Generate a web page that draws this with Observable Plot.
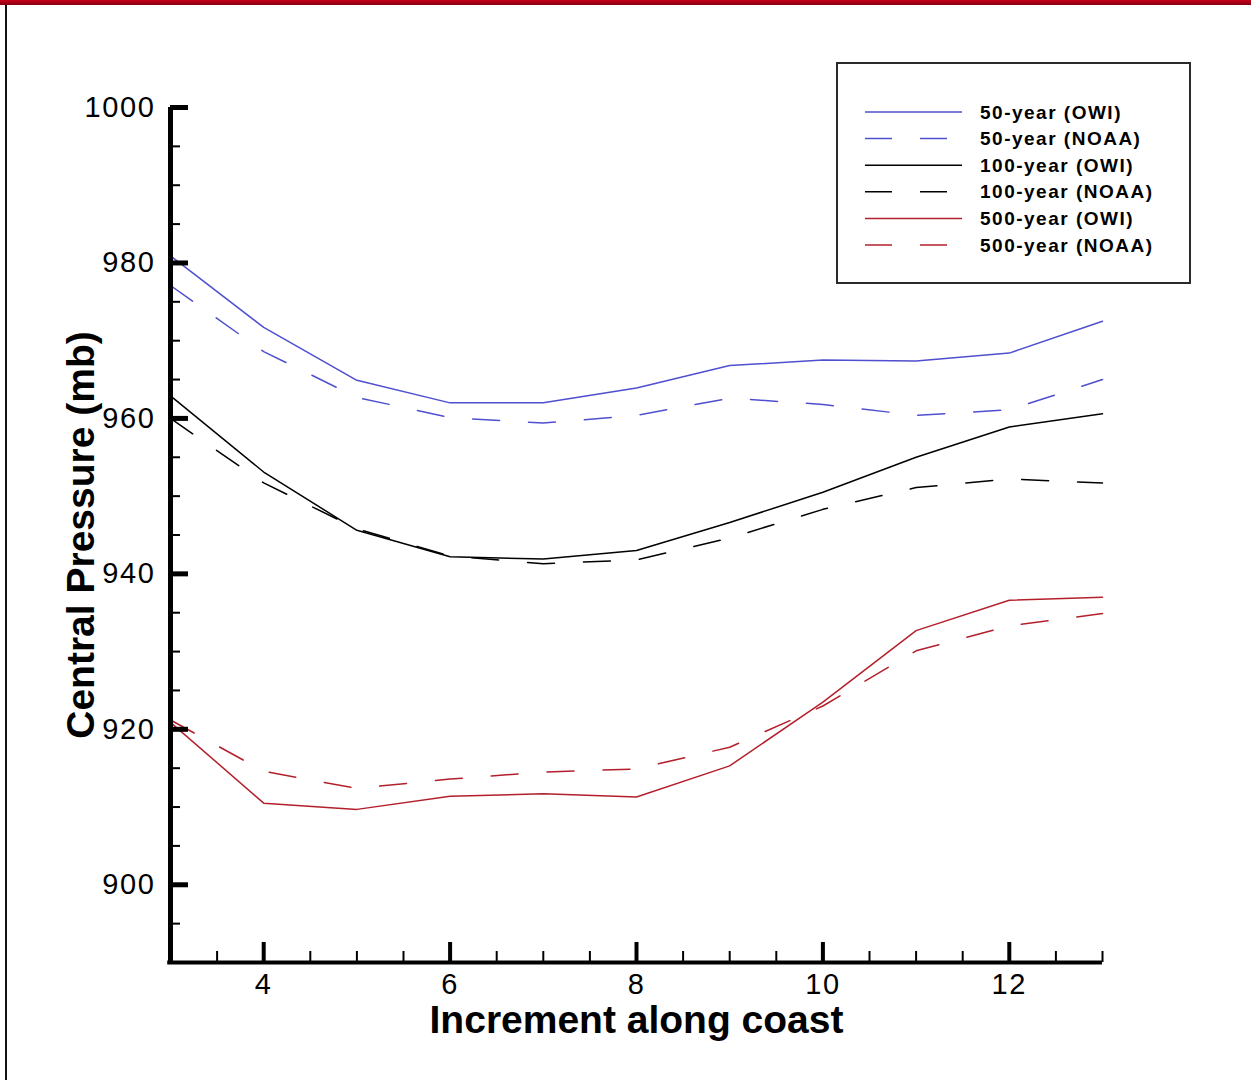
<!DOCTYPE html>
<html>
<head>
<meta charset="utf-8">
<script src="https://cdn.jsdelivr.net/npm/d3@7"></script>
<script src="https://cdn.jsdelivr.net/npm/@observablehq/plot@0.6"></script>
<style>
  body { margin: 0; background: #fff; font-family: "Liberation Sans", Arial, Helvetica, sans-serif; }
  #wrap { position: relative; width: 1251px; height: 1080px; overflow: hidden; background: #fff; }
  #topbar { position: absolute; left: 0; top: 0; width: 1251px; height: 5px; background: linear-gradient(#c4001a, #860010); }
  #leftedge { position: absolute; left: 5px; top: 5px; width: 2px; height: 1075px; background: #111; }
  #legend { position: absolute; left: 836px; top: 62px; width: 351px; height: 218px; border: 2px solid #2a2a2a; background: #fff; }
  #legend text { font-family: "Liberation Sans", Arial, sans-serif; font-weight: bold; font-size: 19px; letter-spacing: 1.5px; fill: #000; }
  .tecplot g[aria-label="y-axis tick label"] text,
  .tecplot g[aria-label="x-axis tick label"] text { letter-spacing: 1.6px; }
</style>
</head>
<body>
<div id="wrap">
  <div id="chart"></div>
  <div id="topbar"></div>
  <div id="leftedge"></div>
  <div id="legend"></div>
</div>
<script>
// Increment index along the coast
const increments = [3, 4, 5, 6, 7, 8, 9, 10, 11, 12, 13];

// Central pressure (mb) by return period and source
const owi50   = [980.9, 971.7, 964.9, 962.0, 962.0, 963.9, 966.8, 967.5, 967.4, 968.4, 972.5];
const noaa50  = [977.1, 968.6, 962.7, 960.1, 959.4, 960.4, 962.6, 961.8, 960.4, 961.1, 965.0];
const owi100  = [962.9, 953.1, 945.6, 942.2, 941.9, 943.0, 946.6, 950.5, 955.0, 958.9, 960.6];
const noaa100 = [960.0, 951.7, 945.8, 942.3, 941.3, 941.8, 944.6, 948.3, 951.1, 952.2, 951.7];
const owi500  = [920.9, 910.5, 909.7, 911.4, 911.7, 911.3, 915.3, 923.5, 932.7, 936.6, 937.0];
const noaa500 = [921.2, 914.6, 912.4, 913.6, 914.5, 914.9, 917.7, 923.0, 930.1, 933.3, 934.9];

const seriesNames = ["50-year (OWI)", "50-year (NOAA)", "100-year (OWI)", "100-year (NOAA)", "500-year (OWI)", "500-year (NOAA)"];
const seriesValues = [owi50, noaa50, owi100, noaa100, owi500, noaa500];
const seriesColors = ["#4f4fd0", "#4f4fd0", "#000000", "#000000", "#b3202c", "#b3202c"];
const seriesDashed = [false, true, false, true, false, true];

// Axis ticks
const xTickLabels = [4, 6, 8, 10, 12];
const xMinorTicks = [3, 3.5, 4.5, 5, 5.5, 6.5, 7, 7.5, 8.5, 9, 9.5, 10.5, 11, 11.5, 12.5, 13];
const yTickLabels = [900, 920, 940, 960, 980, 1000];
const yMinorTicks = [895, 905, 910, 915, 925, 930, 935, 945, 950, 955, 965, 970, 975, 985, 990, 995];

const rows = seriesNames.flatMap((name, i) =>
  increments.map((x, j) => ({series: name, x, p: seriesValues[i][j], dashed: seriesDashed[i]}))
);

const W = 1251, H = 1080;
const mL = 170, mR = 149, mT = 107, mB = 118;
const frameW = W - mL - mR, frameH = H - mT - mB;
const DASH = "27,29";

const chart = Plot.plot({
  width: W,
  height: H,
  marginLeft: mL,
  marginRight: mR,
  marginTop: mT,
  marginBottom: mB,
  className: "tecplot",
  style: {background: "transparent", fontFamily: "'Liberation Sans', Arial, sans-serif", color: "#000"},
  x: {domain: [3, 13]},
  y: {domain: [890, 1000]},
  color: {domain: seriesNames, range: seriesColors},
  marks: [
    Plot.line(rows.filter(d => !d.dashed), {x: "x", y: "p", z: "series", stroke: "series", strokeWidth: 1.5}),
    Plot.line(rows.filter(d => d.dashed), {x: "x", y: "p", z: "series", stroke: "series", strokeWidth: 1.5, strokeDasharray: DASH}),
    // inward ticks
    Plot.tickY(yMinorTicks, {y: d => d, stroke: "#000", strokeWidth: 2, insetRight: frameW - 10}),
    Plot.tickY(yTickLabels, {y: d => d, stroke: "#000", strokeWidth: 5, insetRight: frameW - 18}),
    Plot.tickX(xMinorTicks, {x: d => d, stroke: "#000", strokeWidth: 2, insetTop: frameH - 11}),
    Plot.tickX(xTickLabels, {x: d => d, stroke: "#000", strokeWidth: 4, insetTop: frameH - 20}),
    // axis lines
    Plot.ruleX([3], {stroke: "#000", strokeWidth: 5}),
    Plot.ruleY([890], {x1: 2.97, x2: 13, stroke: "#000", strokeWidth: 4}),
    // tick labels
    Plot.axisY(yTickLabels, {tickSize: 0, tickPadding: 15, fontSize: 29, tickFormat: d => String(d), label: null}),
    Plot.axisX(xTickLabels, {tickSize: 0, tickPadding: 11, fontSize: 29, tickFormat: d => String(d), label: null}),
    // axis titles
    Plot.text(["Increment along coast"], {text: d => d, frameAnchor: "bottom", dy: 58, lineAnchor: "middle", fontSize: 39, fontWeight: "bold", fill: "#000"}),
    Plot.text(["Central Pressure (mb)"], {text: d => d, frameAnchor: "left", dx: -89, rotate: -90, textAnchor: "middle", lineAnchor: "middle", fontSize: 39, fontWeight: "bold", fill: "#000"})
  ]
});
document.getElementById("chart").appendChild(chart);

// Legend box inside the plot area
const lg = d3.select("#legend").append("svg").attr("width", 351).attr("height", 218);
seriesNames.forEach((name, i) => {
  const cy = 48 + i * 26.6;
  lg.append("line")
    .attr("x1", 27).attr("x2", 124).attr("y1", cy).attr("y2", cy)
    .attr("stroke", seriesColors[i]).attr("stroke-width", 1.5)
    .attr("stroke-dasharray", seriesDashed[i] ? "27,28" : null);
  lg.append("text").attr("x", 142).attr("y", cy + 6.5).text(name);
});
</script>
</body>
</html>
